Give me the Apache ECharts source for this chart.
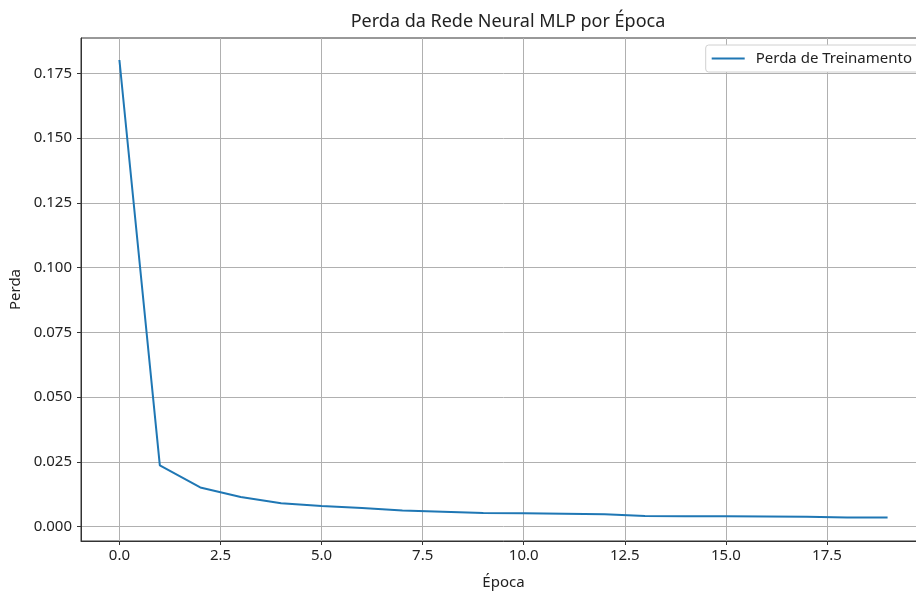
<!DOCTYPE html>
<html lang="pt">
<head>
  <meta charset="UTF-8">
  <title>Perda da Rede Neural MLP por Época</title>
  <script src="https://cdn.jsdelivr.net/npm/echarts@6/dist/echarts.min.js"></script>
  <style>
    html, body { margin: 0; padding: 0; overflow: hidden; background: #fff; }
    #chart { width: 930px; height: 591px; }
  </style>
</head>
<body>
  <div id="chart"></div>
<script>
// dados
let epochs = [0, 1, 2, 3, 4, 5, 6, 7, 8, 9, 10, 11, 12, 13, 14, 15, 16, 17, 18, 19];
let trainLoss = [0.1802, 0.0236, 0.0151, 0.0114, 0.0090, 0.0079, 0.0071, 0.0062, 0.0057, 0.0052,
                 0.0051, 0.0049, 0.0047, 0.0041, 0.0040, 0.0040, 0.0039, 0.0038, 0.0035, 0.0035];
let xTicks = [0, 2.5, 5, 7.5, 10, 12.5, 15, 17.5];
let yTicks = [0, 0.025, 0.05, 0.075, 0.1, 0.125, 0.15, 0.175];

let font = 'Noto Sans';
let myChart = echarts.init(document.getElementById('chart'));

let option = {
  animation: false,
  title: {
    text: 'Perda da Rede Neural MLP por Época',
    left: 503, textAlign: 'center',
    top: 8,
    textStyle: { fontFamily: font, fontSize: 18, fontWeight: 'normal', color: '#222' }
  },
  legend: {
    right: 10, top: 45,
    orient: 'vertical',
    icon: 'rect',
    itemWidth: 33, itemHeight: 2,
    padding: [6, 8, 6, 6],
    borderColor: '#d0d0d0', borderWidth: 1, borderRadius: 3,
    backgroundColor: '#fff',
    textStyle: { fontFamily: font, fontSize: 15, color: '#222', padding: [0, 0, 0, 6] },
    data: ['Perda de Treinamento']
  },
  grid: {
    left: 81, right: 4, top: 38, bottom: 50,
    outerBoundsMode: 'none',
    show: true, borderColor: '#333', borderWidth: 1
  },
  xAxis: {
    type: 'value',
    min: -0.95, max: 19.95,
    name: 'Época', nameLocation: 'middle', nameGap: 34,
    nameTextStyle: { fontFamily: font, fontSize: 15, color: '#222' },
    axisLine: { show: true, onZero: false, lineStyle: { color: '#333', width: 1 } },
    axisTick: { show: true, inside: false, length: 4, customValues: xTicks, lineStyle: { color: '#333' } },
    axisLabel: {
      customValues: xTicks, margin: 7,
      fontFamily: font, fontSize: 15, color: '#222',
      formatter: v => v.toFixed(1)
    },
    splitLine: { show: true, lineStyle: { color: '#b0b0b0', width: 1 } }
  },
  yAxis: {
    type: 'value',
    min: -0.0056, max: 0.1887,
    name: 'Perda', nameLocation: 'middle', nameGap: 57, nameRotate: 90,
    nameTextStyle: { fontFamily: font, fontSize: 15, color: '#222' },
    axisLine: { show: true, onZero: false, lineStyle: { color: '#333', width: 1 } },
    axisTick: { show: true, inside: false, length: 4, customValues: yTicks, lineStyle: { color: '#333' } },
    axisLabel: {
      customValues: yTicks, margin: 9,
      fontFamily: font, fontSize: 15, color: '#222',
      formatter: v => v.toFixed(3)
    },
    splitLine: { show: true, lineStyle: { color: '#b0b0b0', width: 1 } }
  },
  series: [
    {
      name: 'Perda de Treinamento',
      type: 'line',
      data: epochs.map((e, i) => [e, trainLoss[i]]),
      showSymbol: false,
      symbol: 'none',
      itemStyle: { color: '#1f77b4' },
      lineStyle: { color: '#1f77b4', width: 2 }
    }
  ]
};
myChart.setOption(option);
</script>
</body>
</html>
